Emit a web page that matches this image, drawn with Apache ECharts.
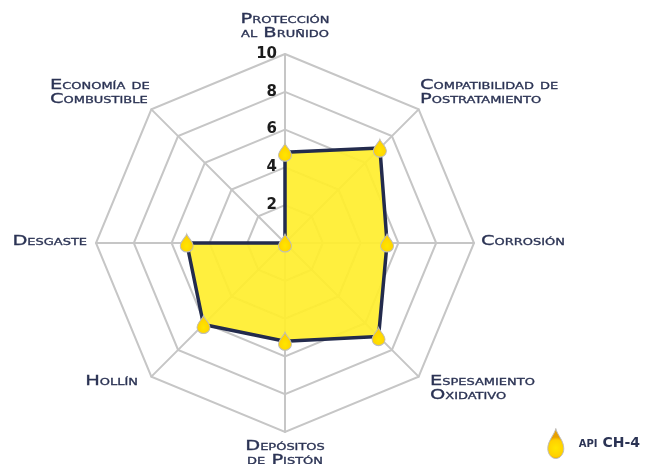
<!DOCTYPE html>
<html>
<head>
<meta charset="utf-8">
<style>html,body{margin:0;padding:0;background:#fff}#chart{width:648px;height:464px}</style>
<script src="https://cdn.jsdelivr.net/npm/echarts@6/dist/echarts.min.js"></script>
</head>
<body>
<div id="chart"></div>
<script>
// listed counterclockwise from the top, the order the radar draws them
const categories = ['Protección al Bruñido', 'Economía de Combustible', 'Desgaste', 'Hollín',
  'Depósitos de Pistón', 'Espesamiento Oxidativo', 'Corrosión', 'Compatibilidad de Postratamiento']
const values = [4.8, 0, 5.2, 6.1, 5.2, 7.0, 5.4, 7.1]
const seriesName = 'api CH-4'

const drop = 'path://M50,0 C56,30 90,60 90,100 C90,128 72,150 50,150 C28,150 10,128 10,100 C10,60 44,30 50,0 Z'
const inkColor = '#2b3354'
const labelFont = { fontFamily: 'DejaVu Sans', fontStyle: 'small-caps', fontWeight: 'normal', fontSize: 13.5, lineHeight: 14, fill: inkColor }

const dropFill = new echarts.graphic.RadialGradient(0.5, 0.65, 0.65, [
  { offset: 0, color: '#ffe600' },
  { offset: 0.75, color: '#ffd000' },
  { offset: 1, color: '#e8a000' }
])

// the source font is much wider than anything installed, so stretch the labels
const label = (text, x, y, align) => ({
  type: 'text', x, y, scaleX: 1.44,
  style: { ...labelFont, text, align, verticalAlign: 'middle', stroke: inkColor, lineWidth: 0.3 }
})

const chart = echarts.init(document.getElementById('chart'))
chart.setOption({
  animation: false,
  legend: {
    right: 3, top: 423,
    itemWidth: 18, itemHeight: 30, itemGap: 8,
    icon: drop,
    textStyle: { fontFamily: 'DejaVu Sans', fontStyle: 'small-caps', fontWeight: 600, fontSize: 14, color: inkColor, padding: [0, 0, 0, 9] },
    data: [{ name: seriesName, itemStyle: { color: dropFill, borderColor: '#bdbdbd', borderWidth: 1 } }]
  },
  radar: {
    center: [285, 243],
    radius: 189,
    startAngle: 90,
    shape: 'polygon',
    splitNumber: 5,
    axisName: { show: false },
    indicator: categories.map((name, i) => ({
      name, min: 0, max: 10,
      axisLabel: i === 0 ? {
        show: true, showMinLabel: false, margin: 8, padding: [3, 0, 0, 0],
        color: '#1c1c1c', fontFamily: 'DejaVu Sans', fontWeight: 600, fontSize: 15
      } : { show: false }
    })),
    axisLine: { lineStyle: { color: '#c6c6c6', width: 2 } },
    axisTick: { show: false },
    splitLine: { lineStyle: { color: '#c6c6c6', width: 2 } },
    splitArea: { show: false }
  },
  series: [
    // fill goes in its own series, otherwise it paints over the inner half of the outline
    {
      type: 'radar',
      name: seriesName,
      symbol: 'none',
      lineStyle: { width: 0 },
      areaStyle: { color: '#ffee2e', opacity: 0.92 },
      data: [{ value: values, name: seriesName }]
    },
    {
      type: 'radar',
      name: seriesName,
      symbol: drop,
      symbolSize: [13, 18],
      itemStyle: { color: dropFill, borderColor: '#bdbdbd', borderWidth: 1 },
      lineStyle: { color: '#232b4d', width: 3.5 },
      data: [{ value: values, name: seriesName }]
    }
  ],
  graphic: [
    label('Protección\nal Bruñido', 285, 26, 'center'),
    label('Compatibilidad de\nPostratamiento', 420, 92, 'left'),
    label('Corrosión', 481, 241, 'left'),
    label('Espesamiento\nOxidativo', 430, 388, 'left'),
    label('Depósitos\nde Pistón', 285, 453, 'center'),
    label('Hollín', 138, 381, 'right'),
    label('Desgaste', 87, 241, 'right'),
    label('Economía de\nCombustible', 50, 92, 'left')
  ]
})
</script>
</body>
</html>
